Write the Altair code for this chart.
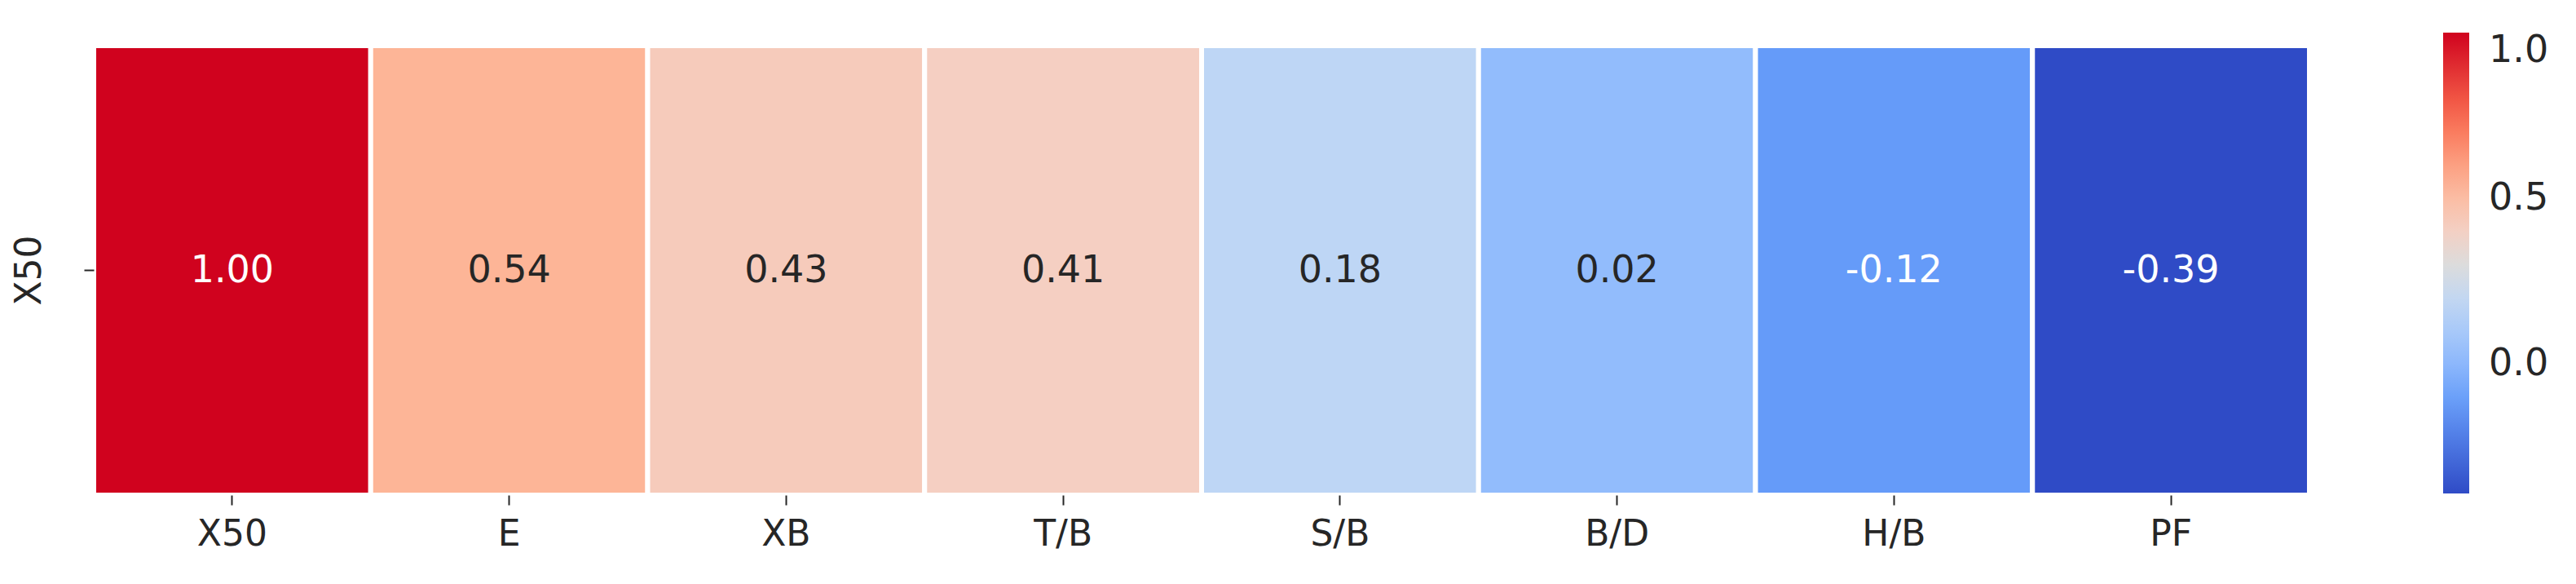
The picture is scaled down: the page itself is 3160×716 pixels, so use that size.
import altair as alt
import pandas as pd

categories = ["X50", "E", "XB", "T/B", "S/B", "B/D", "H/B", "PF"]
row_label = ["X50"]
values = [1.00, 0.54, 0.43, 0.41, 0.18, 0.02, -0.12, -0.39]

color_stops = [-0.39, -0.12, 0.02, 0.18, 0.30, 0.41, 0.54, 0.75, 1.0]
color_range = ["#2f4bc6", "#659bf9", "#92bcfc", "#bed6f5", "#dcdcdc",
               "#f5cfc2", "#fdb597", "#f96a4e", "#d0021e"]
legend_ticks = [0.0, 0.5, 1.0]

df = pd.DataFrame({"col": categories, "row": row_label * len(categories), "value": values})

FONT = "DejaVu Sans"
TXT = "#262626"

base = alt.Chart(df).encode(
    x=alt.X("col:N", sort=categories, title=None,
            axis=alt.Axis(labelAngle=0, labelFontSize=44, labelFont=FONT, labelColor=TXT,
                          tickSize=12, tickColor=TXT, tickWidth=2, domain=False, labelPadding=14)),
    y=alt.Y("row:N", title=None,
            axis=alt.Axis(labelAngle=270, labelFontSize=44, labelFont=FONT, labelColor=TXT,
                          tickSize=12, tickColor=TXT, tickWidth=2, domain=False, labelPadding=45)),
)

rect = base.mark_rect(stroke="white", strokeWidth=6).encode(
    color=alt.Color("value:Q",
                    scale=alt.Scale(domain=color_stops, range=color_range, interpolate="rgb"),
                    legend=alt.Legend(title=None, orient="none", legendX=2882, legendY=-16,
                                      gradientLength=565, gradientThickness=32,
                                      values=legend_ticks, format=".1f",
                                      labelFontSize=46, labelFont=FONT, labelColor=TXT,
                                      labelBaseline="middle", labelOffset=24,
                                      gradientStrokeWidth=0, direction="vertical"))
)

text = base.transform_calculate(
    label="replace(format(datum.value, '.2f'), '\u2212', '-')"
).mark_text(fontSize=46, font=FONT).encode(
    text=alt.Text("label:N"),
    color=alt.condition("datum.value > 0.9 || datum.value < -0.05",
                        alt.value("white"), alt.value(TXT)),
)

chart = (rect + text).properties(
    width=2718, height=551,
    padding={"left": 6, "top": 32, "right": 5, "bottom": 5},
).configure_view(stroke=None).configure_axis(grid=False)

chart.save("out.html", embed_options={"renderer": "svg", "actions": False})
